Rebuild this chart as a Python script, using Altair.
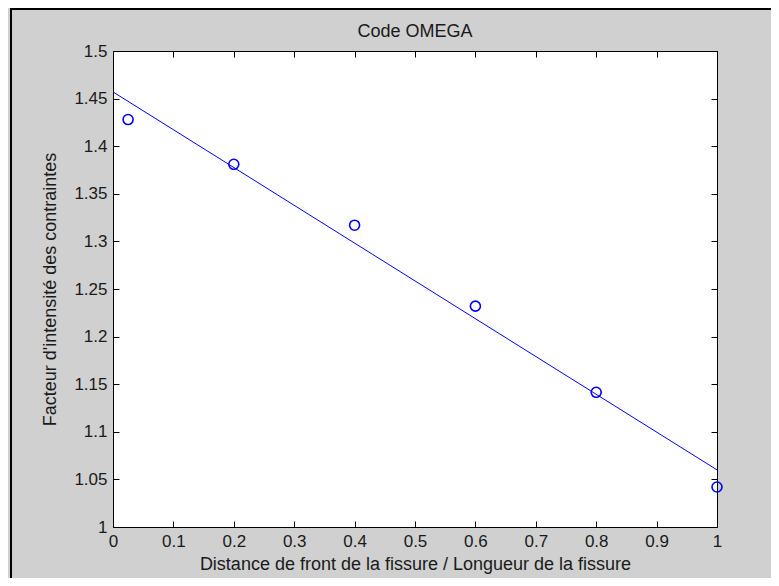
import altair as alt
import pandas as pd

# data
pt_x = [0.025, 0.2, 0.4, 0.6, 0.8, 1.0]
pt_y = [1.428, 1.381, 1.317, 1.232, 1.1415, 1.042]
line_x = [0.0, 1.0]
line_y = [1.457, 1.060]
x_ticks = [0, 0.1, 0.2, 0.3, 0.4, 0.5, 0.6, 0.7, 0.8, 0.9, 1.0]
y_ticks = [1.0, 1.05, 1.1, 1.15, 1.2, 1.25, 1.3, 1.35, 1.4, 1.45, 1.5]
title_text = ["Code OMEGA"]

FONT = "Liberation Sans, Arial, Helvetica, sans-serif"
TXT = "#1a1a1a"
BLUE = "#0000ff"

pts = pd.DataFrame({"x": pt_x, "y": pt_y})
fit = pd.DataFrame({"x": line_x, "y": line_y})

xscale = alt.Scale(domain=[0, 1], nice=False, zero=False)
yscale = alt.Scale(domain=[1, 1.5], nice=False, zero=False)

common = dict(offset=-6, tickSize=6, domain=False, grid=False, tickColor="#000",
              tickWidth=1, labelFont=FONT, titleFont=FONT, labelColor=TXT,
              titleColor=TXT, labelFlush=False, labelOverlap=False)

points = alt.Chart(pts).mark_point(
    shape="circle", filled=False, color=BLUE, size=100, strokeWidth=1.6, opacity=1
).encode(
    x=alt.X("x:Q", scale=xscale, axis=alt.Axis(
        orient="bottom", values=x_ticks, format=".1~f", labelPadding=6,
        labelFontSize=17, title="Distance de front de la fissure / Longueur de la fissure",
        titleFontSize=18, titleFontWeight="normal", titlePadding=6, **common)),
    y=alt.Y("y:Q", scale=yscale, axis=alt.Axis(
        orient="left", values=y_ticks, format=".2~f", labelPadding=6,
        labelFontSize=17, title="Facteur d'intensité des contraintes",
        titleFontSize=18, titleFontWeight="normal", titlePadding=14, **common)),
)

line = alt.Chart(fit).mark_line(color=BLUE, strokeWidth=1).encode(
    x=alt.X("x:Q", scale=xscale, axis=alt.Axis(
        orient="top", values=x_ticks, labels=False, title=None, **common)),
    y=alt.Y("y:Q", scale=yscale, axis=alt.Axis(
        orient="right", values=y_ticks, labels=False, title=None, **common)),
)

one = pd.DataFrame({"a": [0]})
left_border = alt.Chart(one).mark_rule(color="#000", strokeWidth=2).encode(
    x=alt.value(-102), y=alt.value(-43), y2=alt.value(530))
top_border = alt.Chart(one).mark_rule(color="#000", strokeWidth=2).encode(
    x=alt.value(-103), x2=alt.value(660), y=alt.value(-42))

title = alt.Chart(pd.DataFrame({"t": title_text})).mark_text(
    font=FONT, fontSize=18, color=TXT, align="center", baseline="alphabetic"
).encode(text="t:N", x=alt.value(302), y=alt.value(-14))

chart = alt.layer(line, points, left_border, top_border, title).resolve_axis(
    x="independent", y="independent"
).properties(
    width=604, height=476,
    autosize=alt.AutoSizeParams(type="none"),
    padding={"left": 105, "top": 43, "right": 54, "bottom": 51},
    background="#d0d0d0",
).configure_view(stroke="#000", strokeWidth=1, fill="white")

chart.save("out.html", embed_options={"renderer": "svg", "actions": False})
